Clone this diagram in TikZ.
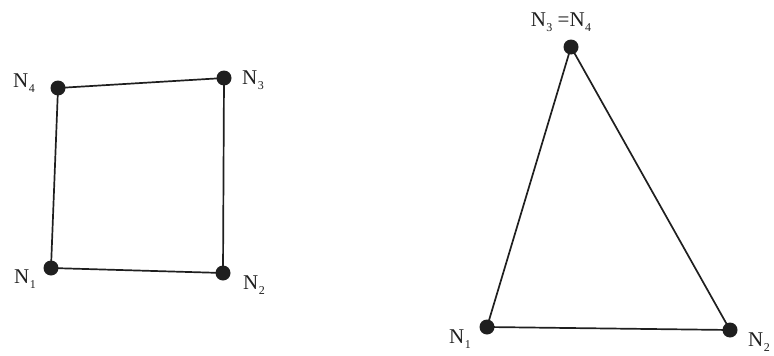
\documentclass[tikz,border=0pt]{standalone}
\usepackage{fontspec}
\setmainfont{Liberation Serif}
\newcommand{\nsub}[1]{N\kern0.02em\raisebox{-0.22em}{\fontsize{12}{14}\selectfont #1}}
\begin{document}
\begin{tikzpicture}[x=1pt,y=-1pt,
  vtx/.style={circle,fill=black!88,inner sep=0pt,minimum size=15pt},
  lbl/.style={inner sep=0pt,font=\fontsize{21}{23}\selectfont,text=black!88},
  edge/.style={line width=1.7pt,black!88}]
\useasboundingbox (0,0) rectangle (774,356);
% quadrilateral
\node[vtx] (a1) at (51,268) {};
\node[vtx] (a2) at (223,273) {};
\node[vtx] (a3) at (224,78) {};
\node[vtx] (a4) at (58,88) {};
\draw[edge] (a1.center) -- (a2.center) -- (a3.center) -- (a4.center) -- cycle;
\node[lbl] (la1) at (25,279) {\nsub{1}};
\node[lbl] (la2) at (254,285) {\nsub{2}};
\node[lbl] (la3) at (253,80) {\nsub{3}};
\node[lbl] (la4) at (24,83) {\nsub{4}};
% triangle
\node[vtx] (b1) at (487,327) {};
\node[vtx] (b2) at (730,330) {};
\node[vtx] (b3) at (571,47) {};
\draw[edge] (b1.center) -- (b2.center) -- (b3.center) -- cycle;
\node[lbl] (lb1) at (460,339) {\nsub{1}};
\node[lbl] (lb2) at (759,342) {\nsub{2}};
\node[lbl] (lb3) at (561,22) {\nsub{3} =\nsub{4}};
\end{tikzpicture}
\end{document}
